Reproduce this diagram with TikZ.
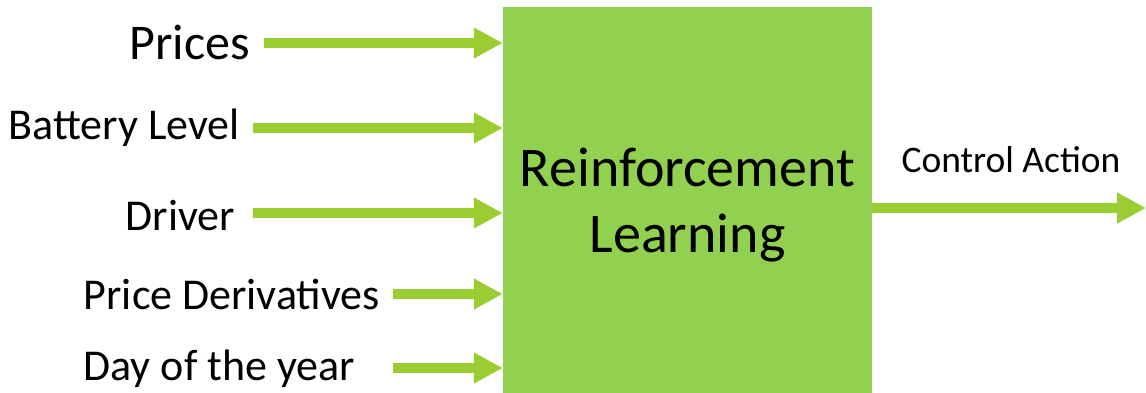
\documentclass[tikz,border=0pt]{standalone}
\usepackage{fontspec}
\setmainfont{Carlito}
\usetikzlibrary{arrows.meta}

\definecolor{blockgreen}{HTML}{92D050}
\definecolor{feedgreen}{HTML}{9ACD32}

\tikzset{
  feed/.style={draw=feedgreen, line width=10pt,
    -{Triangle[length=29pt,width=29pt]}},
  inlabel/.style={anchor=base east, inner sep=0pt,
    font=\fontsize{44}{50}\selectfont},
}

\begin{document}
\begin{tikzpicture}[x=1pt,y=1pt]
\useasboundingbox (0,0) rectangle (1146,-393);

%% RL block
\node (rl) [fill=blockgreen, inner sep=0pt, minimum width=369pt,
  minimum height=386pt] at (687.5,-200) {};
\node (rltext) [align=center, inner sep=0pt,
  font=\fontsize{56}{66}\selectfont] at (687.5,-205)
  {Reinforcement\\Learning};

%% Inputs
\node (prices) [inlabel, font=\fontsize{50}{60}\selectfont] at (250,-60) {Prices};
\node (battery) [inlabel] at (240,-140) {Battery Level};
\node (driver) [inlabel] at (235,-230) {Driver};
\node (deriv) [inlabel] at (380,-309) {Price Derivatives};
\node (day) [inlabel] at (355,-380) {Day of the year};

\coordinate (s1) at (264,-43);
\coordinate (s2) at (253,-128);
\coordinate (s3) at (253,-213);
\coordinate (s4) at (393,-294);
\coordinate (s5) at (393,-368);

\foreach \s in {s1,s2,s3,s4,s5}
  \draw[feed] (\s) -- (rl.west |- \s);

%% Output
\coordinate (out) at (1146,-208);
\draw[feed] (rl.east |- out) -- (out);
\node (action) [anchor=base, inner sep=0pt,
  font=\fontsize{37.5}{44}\selectfont] at (1011,-172) {Control Action};

\end{tikzpicture}
\end{document}
